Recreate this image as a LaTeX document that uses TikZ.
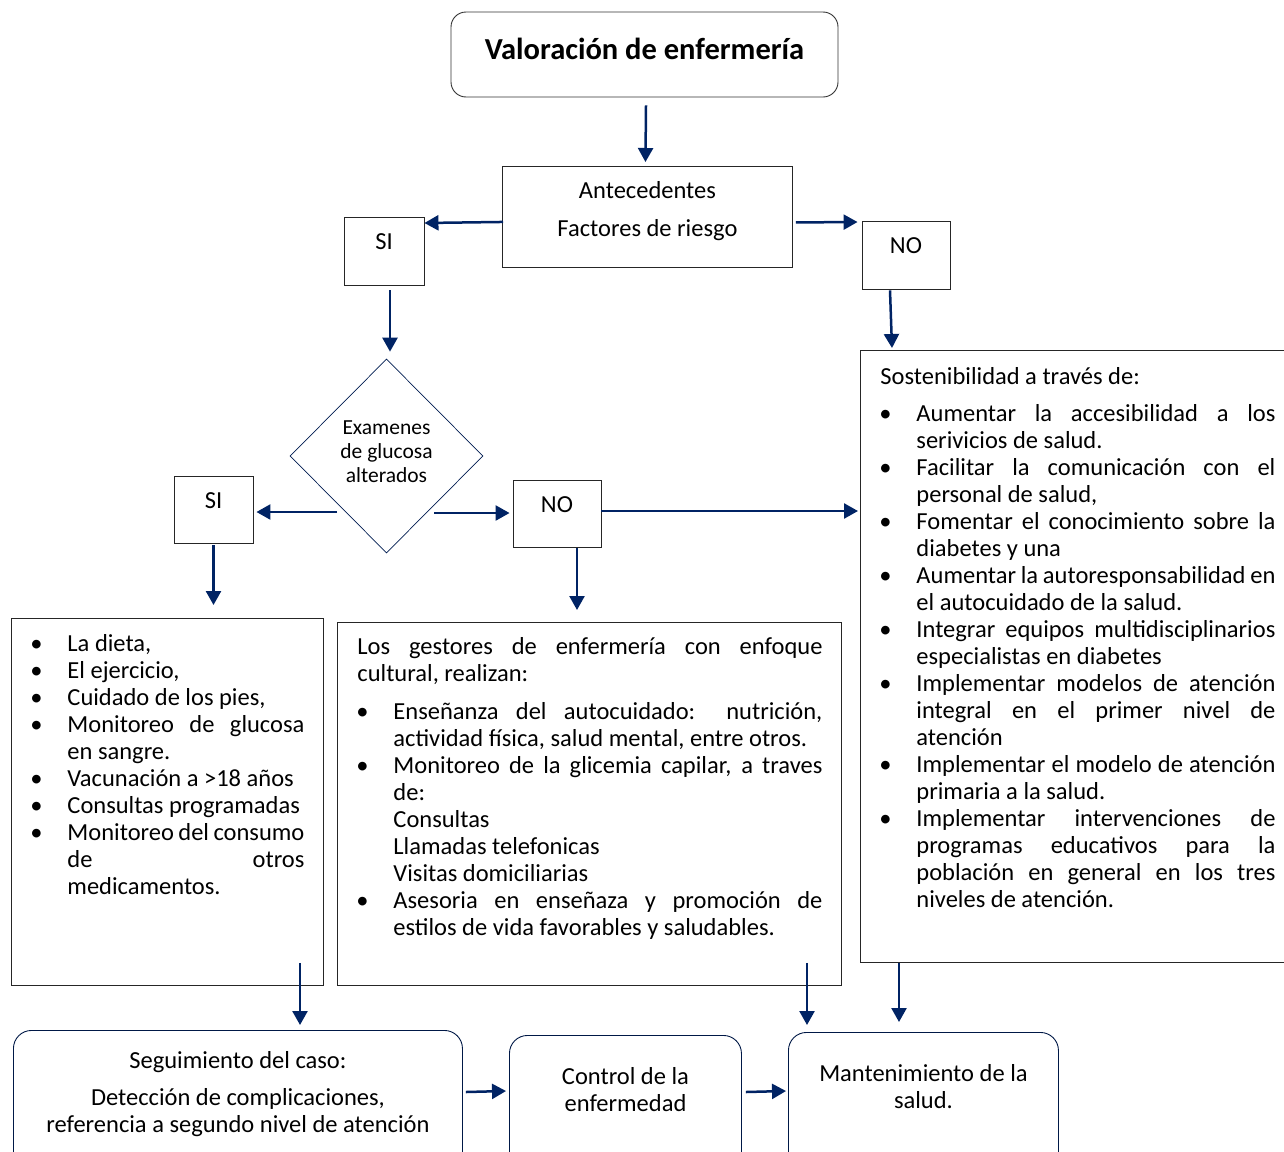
\documentclass[tikz,border=0pt]{standalone}
\usepackage{fontspec}
\setmainfont{Carlito}
\usetikzlibrary{shapes.geometric, arrows.meta, positioning, calc}
\definecolor{azul}{RGB}{0,35,100}

% lista con viñetas
\newenvironment{vinetas}[1]{%
  \begin{list}{\makebox[0pt]{\textbullet}}{%
    \setlength{\leftmargin}{36pt}\setlength{\labelwidth}{0pt}%
    \setlength{\labelsep}{31pt}\setlength{\itemsep}{0pt}%
    \setlength{\parsep}{0pt}\setlength{\topsep}{#1}%
    \setlength{\partopsep}{0pt}\setlength{\rightmargin}{0pt}}}%
  {\end{list}}

% ancho, alto, arriba, izquierda, ancho del texto, texto
\newcommand{\bloque}[6]{%
  \parbox[t][#2][t]{#1}{\fontsize{24.5}{27}\selectfont\hyphenpenalty=10000
    \vspace*{#3}\hspace*{#4}\parbox[t]{#5}{#6}}}

\begin{document}
\begin{tikzpicture}[x=1pt, y=-1pt]
    \tikzstyle{titulo} = [rectangle, rounded corners=15pt, minimum width=387, minimum height=85, draw=black!80, line width=0.9pt, text height=20pt, text depth=10pt, font=\bfseries\fontsize{30.5}{34}\selectfont]
    \tikzstyle{cuadro} = [rectangle, draw=black!85, line width=0.9pt, font=\fontsize{24.5}{27}\selectfont]
    \tikzstyle{opcion} = [cuadro, text height=15pt, text depth=18pt]
    \tikzstyle{lista} = [rectangle, draw=black!85, line width=0.9pt, inner sep=0pt, anchor=north west]
    \tikzstyle{final} = [lista, draw=azul!70!black, rounded corners=18pt]
    \tikzstyle{flecha} = [azul, line width=2.5pt, -{Triangle[width=15pt,length=14pt]}]

    \useasboundingbox (0,0) rectangle (1284,1151);

    \node[titulo] (valor) at (644.5,54.5) {Valoración de enfermería};
    \node[lista] (antec) at (502,166) {\parbox[t][101pt][t]{290pt}{\centering\fontsize{24.5}{27}\selectfont
      \vspace*{15pt}Antecedentes\\[11pt]Factores de riesgo}};
    \node[opcion, minimum width=80, minimum height=68] (si1) at (384,251) {SI};
    \node[opcion, minimum width=88, minimum height=68] (no1) at (906,255) {NO};
    \node[diamond, draw=azul!80!black, line width=0.7pt, minimum width=193, minimum height=194, inner sep=0pt, font=\fontsize{21.5}{24}\selectfont] (examen) at (386.5,456)
      {\raisebox{2pt}[\height][\depth]{\begin{tabular}{@{}c@{}}Examenes\\de glucosa\\alterados\end{tabular}}};
    \node[opcion, minimum width=79, minimum height=67] (si2) at (213.5,509.5) {SI};
    \node[opcion, minimum width=88, minimum height=67] (no2) at (557,513.5) {NO};

    % cajas con listas
    \node[lista] (cuidados) at (11,618) {\bloque{312pt}{367pt}{16pt}{20pt}{273pt}{%
      \begin{vinetas}{0pt}
        \item La dieta,
        \item El ejercicio,
        \item Cuidado de los pies,
        \item Monitoreo de glucosa\linebreak en sangre.
        \item Vacunación a >18 años
        \item Consultas programadas
        \item Monitoreo del consumo\linebreak de otros\linebreak medicamentos.
      \end{vinetas}}};
    \node[lista] (gestores) at (337,622) {\bloque{504pt}{363pt}{15pt}{20pt}{465pt}{%
      Los gestores de enfermería con enfoque\linebreak cultural, realizan:
      \begin{vinetas}{11pt}
        \item Enseñanza del autocuidado: nutrición,\linebreak actividad física, salud mental, entre otros.
        \item Monitoreo de la glicemia capilar, a traves\linebreak de:\\Consultas\\Llamadas telefonicas\\Visitas domiciliarias
        \item Asesoria en enseñaza y promoción de\linebreak estilos de vida favorables y saludables.
      \end{vinetas}}};
    \node[lista] (sosten) at (860,350) {\bloque{430pt}{612pt}{17pt}{20pt}{395pt}{%
      Sostenibilidad a través de:
      \begin{vinetas}{10pt}
        \item Aumentar la accesibilidad a los\linebreak serivicios de salud.
        \item Facilitar la comunicación con el\linebreak personal de salud,
        \item Fomentar el conocimiento sobre la\linebreak diabetes y una
        \item Aumentar la autoresponsabilidad en\linebreak el autocuidado de la salud.
        \item Integrar equipos multidisciplinarios\linebreak especialistas en diabetes
        \item Implementar modelos de atención\linebreak integral en el primer nivel de\linebreak atención
        \item Implementar el modelo de atención\linebreak primaria a la salud.
        \item Implementar intervenciones de\linebreak programas educativos para la\linebreak población en general en los tres\linebreak niveles de atención.
      \end{vinetas}}};

    % cajas finales
    \node[final] (seguim) at (13,1030) {\parbox[t][140pt][t]{449pt}{\centering\fontsize{24.5}{27}\selectfont
      \vspace*{21pt}Seguimiento del caso:\\[10pt]Detección de complicaciones,\\referencia a segundo nivel de atención}};
    \node[final] (control) at (509,1035) {\parbox[t][135pt][t]{232pt}{\centering\fontsize{24.5}{27}\selectfont
      \vspace*{32pt}Control de la\\enfermedad}};
    \node[final] (mant) at (788,1032) {\parbox[t][138pt][t]{270pt}{\centering\fontsize{24.5}{27}\selectfont
      \vspace*{32pt}Mantenimiento de la\\salud.}};

    \draw[flecha] ($(valor.south)+(1.5,8)$) -- ($(antec.north)+(-2,-4)$);
    \draw[flecha] ($(antec.west)+(1,5)$) -- ($(si1.east)+(0,-28)$);
    \draw[flecha] ($(antec.east)+(3,5.5)$) -- ($(no1.west)+(-4,-33)$);
    \draw[flecha] ($(si1.south)+(6,5)$) -- ($(examen.north)+(3.5,-7)$);
    \draw[flecha] ($(no1.south)+(-16,1)$) -- ($(sosten.north west)+(32,-2)$);
    \draw[flecha] ($(examen.center)+(-49.5,56)$) -- ($(si2.east)+(3,2.5)$);
    \draw[flecha] ($(examen.center)+(47.5,57)$) -- ($(no2.west)+(-3,-0.5)$);
    \draw[flecha] ($(no2.east)+(0,-2.5)$) -- ($(no2.east -| sosten.west)+(-2,-2.5)$);
    \draw[flecha] ($(si2.south)+(0,2)$) -- ($(si2.south |- cuidados.north)+(0,-13)$);
    \draw[flecha] ($(no2.south)+(20,1)$) -- ($(no2.south |- gestores.north)+(20,-12)$);
    \draw[flecha] ($(cuidados.south west)+(289,-23)$) -- ($(seguim.north west)+(287,-5)$);
    \draw[flecha] ($(gestores.south west)+(470,-23)$) -- ($(mant.north west)+(19,-7)$);
    \draw[flecha] ($(sosten.south west)+(39,0)$) -- ($(mant.north west)+(111,-10)$);
    \draw[flecha] ($(seguim.north east)+(3,62)$) -- ($(control.north west)+(-3,56)$);
    \draw[flecha] ($(control.north east)+(4,57)$) -- ($(mant.north west)+(-2,59)$);
\end{tikzpicture}
\end{document}
